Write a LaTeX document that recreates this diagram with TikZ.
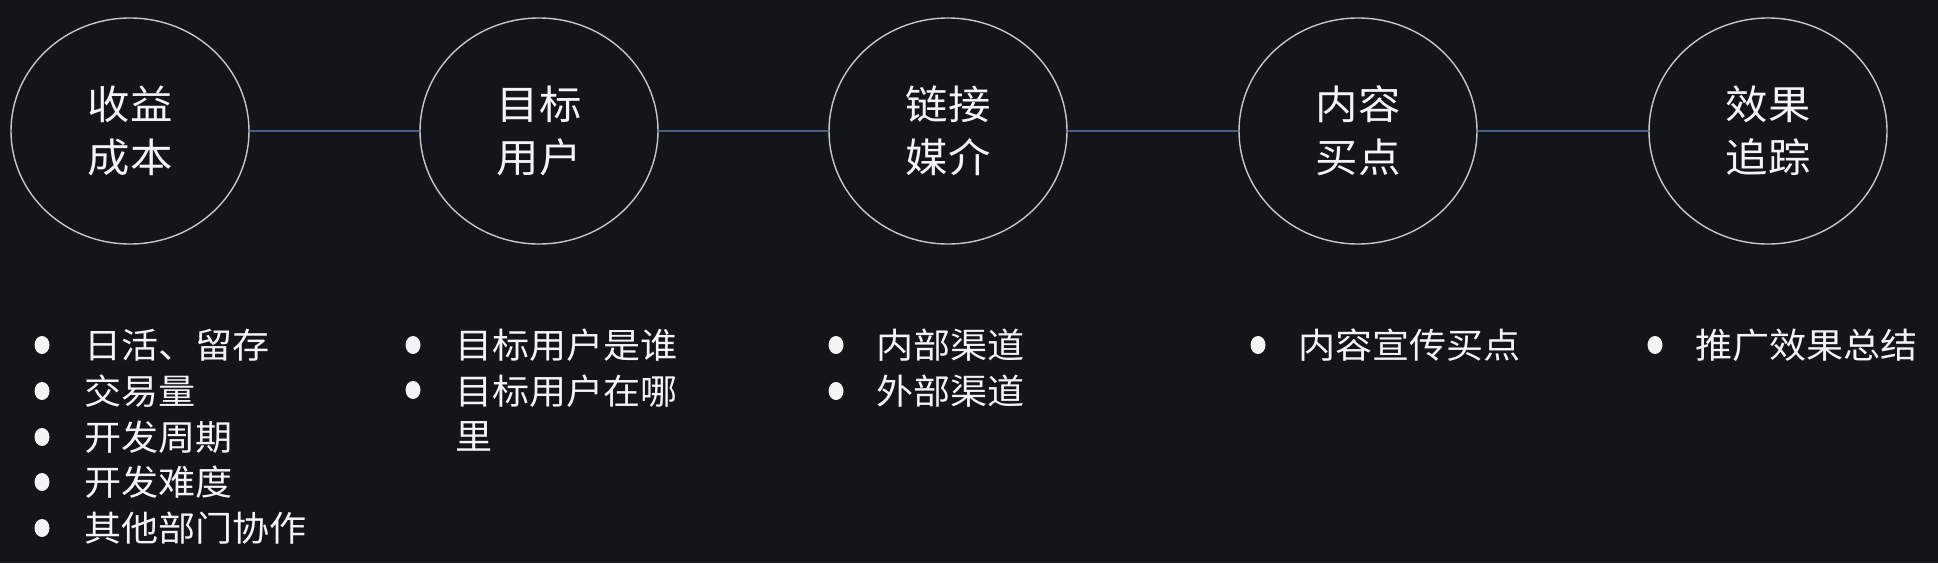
\documentclass[tikz,border=0pt]{standalone}
\usepackage{fontspec}
\newfontfamily\cjk[FakeStretch=1.06]{Noto Sans CJK SC}
\usetikzlibrary{shapes.geometric}
\definecolor{bg}{HTML}{141519}
\definecolor{ring}{HTML}{C6C7CA}
\definecolor{linkline}{HTML}{41628E}
\definecolor{ink}{HTML}{F4F4F4}

\begin{document}
\begin{tikzpicture}[
  x=1pt,
  y=-1pt,
  stage/.style={
    ellipse,
    draw=ring,
    line width=1.4pt,
    minimum width=238pt,
    minimum height=226pt,
    inner sep=0pt,
    align=center,
    text=ink,
    font=\cjk\fontsize{40}{53}\selectfont
  },
  item/.style={
    anchor=west,
    align=left,
    inner sep=0pt,
    text=ink,
    font=\cjk\fontsize{35}{45.5}\selectfont
  },
  dot/.style={ellipse, fill=ink, minimum width=15pt, minimum height=18pt, inner sep=0pt},
  link/.style={draw=linkline, line width=1.3pt}
]

% Canvas
\fill[bg] (0,0) rectangle (1938,563);
\useasboundingbox (0,0) rectangle (1938,563);

% Stages
\node[stage] (revenue) at (130,131) {收益\\成本};
\node[stage] (users) at (539,131) {目标\\用户};
\node[stage] (channel) at (948,131) {链接\\媒介};
\node[stage] (selling) at (1358,131) {内容\\买点};
\node[stage] (tracking) at (1768,131) {效果\\追踪};

\draw[link] (revenue) -- (users);
\draw[link] (users) -- (channel);
\draw[link] (channel) -- (selling);
\draw[link] (selling) -- (tracking);

% Revenue and cost points
\node[item] (revenueA) at (84,345) {日活、留存};
\node[item] (revenueB) at (84,391) {交易量};
\node[item] (revenueC) at (84,437) {开发周期};
\node[item] (revenueD) at (84,482) {开发难度};
\node[item] (revenueE) at (84,528) {其他部门协作};
\node[dot] at (42,345) {};
\node[dot] at (42,391) {};
\node[dot] at (42,437) {};
\node[dot] at (42,482) {};
\node[dot] at (42,528) {};

% Target user points
\node[item] (usersA) at (455,345) {目标用户是谁};
\node[item] (usersB) at (455,413) {目标用户在哪\\里};
\node[dot] at (413,345) {};
\node[dot] at (413,390) {};

% Channel points
\node[item] (channelA) at (876,345) {内部渠道};
\node[item] (channelB) at (876,391) {外部渠道};
\node[dot] at (836,345) {};
\node[dot] at (836,391) {};

% Selling point and tracking
\node[item] (sellingA) at (1298,345) {内容宣传买点};
\node[dot] at (1258,345) {};
\node[item] (trackingA) at (1695,345) {推广效果总结};
\node[dot] at (1655,345) {};

\end{tikzpicture}
\end{document}
